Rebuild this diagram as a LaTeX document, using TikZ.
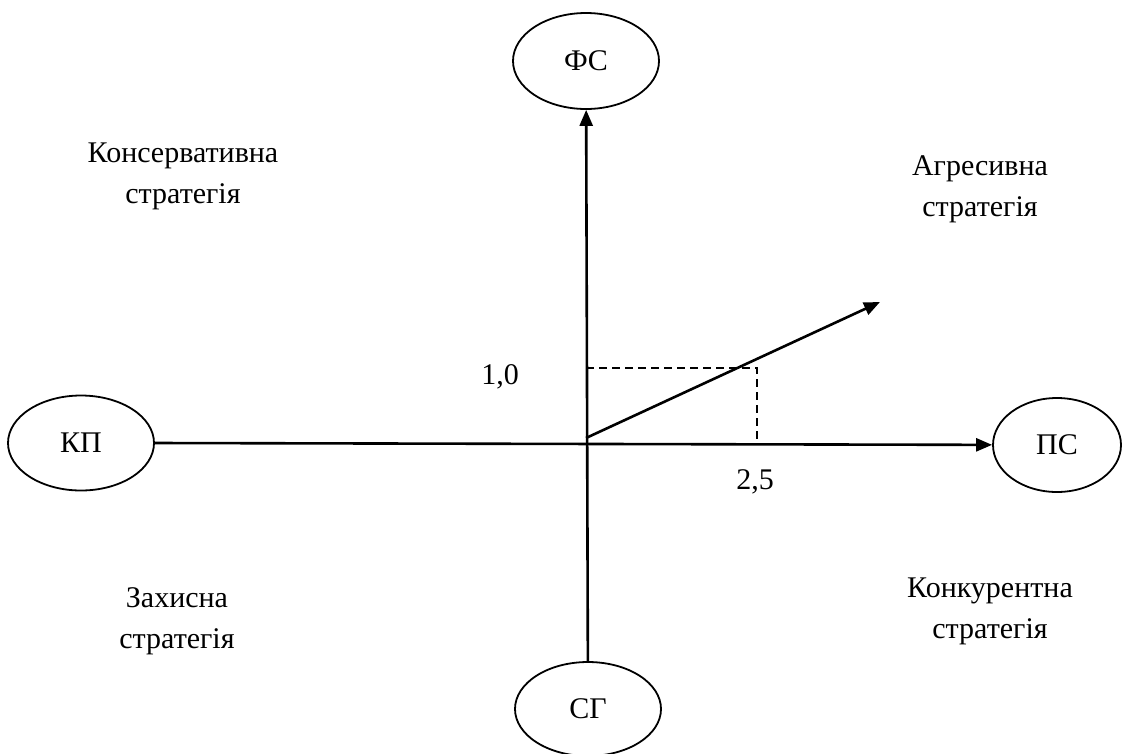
\documentclass[tikz,border=0pt]{standalone}
\usepackage{fontspec}
\setmainfont{Liberation Serif}
\usetikzlibrary{arrows.meta,shapes.geometric}

\begin{document}
\begin{tikzpicture}[x=1pt,y=-1pt,
  axisnode/.style={ellipse,draw,line width=1.8pt,minimum width=146pt,minimum height=96pt,inner sep=0pt,font=\fontsize{30}{36}\selectfont},
  zonetext/.style={align=center,font=\fontsize{30}{41}\selectfont},
  axis/.style={line width=2.6pt,-{Triangle[length=16pt,width=13pt]}}]
\useasboundingbox (0,0) rectangle (1131,753);
\node [axisnode] (fs) at (586,61) {ФС};
\node [axisnode,minimum height=94pt] (sg) at (588,709) {СГ};
\node [axisnode,minimum height=95pt] (kp) at (81,443) {КП};
\node [axisnode,minimum width=128pt,minimum height=94pt] (ps) at (1057,445) {ПС};
\coordinate (o) at (586,444);
\coordinate (start) at (586,438);
\coordinate (tip) at (880,302);
\coordinate (y1) at (586,368);
\coordinate (x1) at (757,444);
\draw [axis] (sg) -- (fs);
\draw [axis] (kp.east) -- (ps);
\draw [axis] (start) -- (tip);
\draw [dashed,line width=1.4pt,dash pattern=on 8pt off 5pt] (y1) -| (x1);
\node (lbl1) at (500,377) {\fontsize{30}{36}\selectfont 1,0};
\node (lbl2) at (755,482) {\fontsize{30}{36}\selectfont 2,5};
  \foreach \nm/\word/\pos in {kons/Консервативна/{(183,176)},agr/Агресивна/{(980,189)},zah/Захисна/{(177,621)},konk/Конкурентна/{(990,611)}}
  {  \node [zonetext] (\nm) at \pos {\word\\стратегія};}
\end{tikzpicture}
\end{document}
